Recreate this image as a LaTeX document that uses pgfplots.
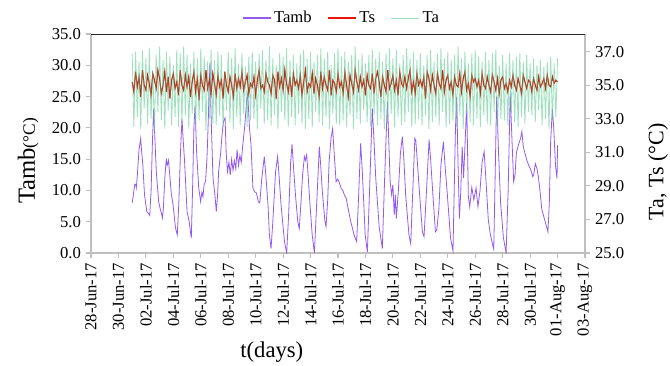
\documentclass[border=0pt]{standalone}
\usepackage{pgfplots}
\usepackage{pgfplotstable}
\pgfplotsset{compat=1.18}
\usepackage{fontspec}
\setmainfont{Liberation Serif}
\setsansfont{Liberation Serif}
\definecolor{tambc}{RGB}{145,90,240}
\definecolor{tsc}{RGB}{235,20,10}
\definecolor{tsb}{RGB}{150,60,30}
\definecolor{tac}{RGB}{110,208,155}
\definecolor{axgray}{RGB}{191,191,191}

\pgfplotstableread{
d T
3.00 8.0
3.10 9.5
3.18 10.9
3.25 11.0
3.30 10.4
3.38 12.5
3.50 16.5
3.62 18.3
3.70 16.0
3.78 14.0
3.90 9.3
4.07 6.6
4.20 6.3
4.28 6.0
4.38 10.0
4.48 18.0
4.57 23.1
4.66 18.0
4.76 13.0
4.93 8.2
5.05 7.0
5.13 6.4
5.20 5.6
5.27 7.0
5.38 12.0
5.49 15.1
5.55 14.0
5.65 14.8
5.72 13.0
5.85 9.5
5.98 7.7
6.16 4.0
6.29 2.9
6.40 8.0
6.52 16.0
6.63 21.5
6.72 18.0
6.82 14.6
7.00 6.6
7.16 5.0
7.24 3.5
7.31 2.4
7.40 10.0
7.50 20.0
7.58 23.5
7.70 16.0
7.85 10.4
7.99 8.2
8.08 9.7
8.16 9.0
8.24 10.9
8.35 11.5
8.45 15.0
8.53 20.0
8.62 27.0
8.67 30.4
8.75 22.0
8.89 12.0
9.03 9.3
9.13 6.6
9.22 9.0
9.30 13.0
9.45 16.0
9.55 18.9
9.65 21.0
9.77 21.6
9.85 16.0
9.95 13.0
10.05 14.5
10.15 12.5
10.25 15.0
10.35 13.2
10.45 14.8
10.55 13.5
10.65 16.5
10.75 14.0
10.85 15.6
10.95 14.5
11.05 17.0
11.20 20.2
11.35 24.5
11.42 25.5
11.55 20.0
11.66 17.3
11.80 10.4
11.92 9.8
12.05 9.6
12.20 8.2
12.30 8.0
12.45 12.0
12.63 15.4
12.72 13.0
12.90 7.7
13.00 2.9
13.12 0.7
13.25 5.0
13.45 13.0
13.60 15.4
13.70 12.5
13.85 7.7
14.10 1.8
14.26 0.0
14.40 6.0
14.55 14.5
14.65 17.4
14.75 14.0
14.90 9.3
15.07 5.0
15.18 3.9
15.30 8.0
15.42 12.5
15.55 15.4
15.62 14.8
15.72 15.7
15.82 12.5
15.96 7.7
16.12 2.9
16.28 0.0
16.45 8.0
16.64 17.0
16.74 14.0
16.86 9.8
17.05 5.0
17.13 4.2
17.25 8.5
17.35 14.5
17.50 18.5
17.61 19.9
17.72 16.0
17.86 11.4
17.98 11.8
18.10 11.2
18.22 10.4
18.35 10.0
18.46 9.3
18.60 8.7
18.75 7.0
18.93 5.0
19.05 4.0
19.17 2.9
19.36 1.8
19.50 9.0
19.65 17.5
19.75 14.0
19.85 9.3
19.98 2.9
20.14 0.2
20.30 10.0
20.50 23.1
20.60 19.0
20.75 12.0
21.00 4.2
21.23 0.7
21.40 12.0
21.60 24.2
21.70 18.0
21.80 11.4
21.91 9.3
22.00 10.9
22.10 6.1
22.18 9.3
22.25 5.5
22.40 10.0
22.55 16.0
22.69 18.6
22.80 15.0
22.93 9.3
23.17 2.9
23.30 1.5
23.45 10.0
23.60 18.3
23.67 18.0
23.80 14.0
23.95 9.3
24.15 3.4
24.27 2.6
24.45 10.0
24.64 18.1
24.75 15.0
24.90 9.8
25.10 3.4
25.20 3.7
25.35 7.0
25.50 14.0
25.68 17.8
25.80 14.0
25.97 9.3
26.20 2.4
26.38 0.3
26.56 19.9
26.65 25.0
26.75 14.0
26.85 5.5
26.95 10.0
27.05 17.0
27.15 12.0
27.25 17.0
27.38 24.0
27.50 9.0
27.60 7.4
27.75 10.5
27.90 8.5
28.06 10.4
28.20 7.4
28.35 10.0
28.50 14.5
28.65 16.2
28.80 11.0
28.95 5.4
29.10 3.0
29.30 1.0
29.35 0.6
29.45 12.0
29.56 25.0
29.70 16.0
29.85 8.0
30.05 2.5
30.25 0.0
30.40 10.0
30.55 25.5
30.68 18.0
30.80 11.4
30.90 12.5
31.00 16.0
31.15 17.3
31.30 18.3
31.40 19.4
31.50 17.0
31.65 15.7
31.75 14.9
31.90 14.0
32.05 13.3
32.20 12.2
32.26 12.5
32.38 14.3
32.50 13.5
32.60 12.2
32.70 10.4
32.85 7.0
33.10 5.0
33.30 3.4
33.40 8.0
33.50 18.0
33.62 23.0
33.72 20.0
33.85 14.0
33.96 11.9
34.00 17.2
}\tambtable

\pgfplotstableread{
ts ta
35.2 36.9
34.6 32.5
35.8 37.0
34.9 33.1
35.5 36.4
34.3 32.4
35.9 37.1
35.0 33.6
34.7 36.6
35.6 32.7
35.1 37.2
34.4 33.0
35.7 35.9
35.3 32.3
34.8 36.8
35.9 33.4
35.4 37.3
34.5 32.9
35.0 36.5
35.8 32.4
34.6 37.0
35.5 33.5
34.2 36.7
35.3 32.6
35.7 36.2
34.8 33.1
35.2 37.1
34.4 32.5
35.9 36.9
35.0 32.8
34.7 37.3
35.6 33.2
34.9 36.8
35.5 32.4
34.3 36.3
35.2 33.3
35.8 37.0
34.6 32.6
35.4 36.6
34.1 32.9
35.6 37.2
35.0 33.4
34.7 36.7
35.9 32.3
34.8 36.4
35.3 33.0
34.5 37.1
35.7 32.7
35.1 36.5
34.4 32.6
35.6 37.0
34.9 33.2
35.3 36.8
34.2 32.5
35.8 35.8
35.0 33.5
34.6 37.0
35.5 32.8
35.0 36.6
34.3 32.4
35.7 37.2
34.8 33.1
35.4 36.3
34.9 32.6
35.8 36.9
34.7 33.3
35.2 36.1
35.6 32.5
34.5 36.7
35.1 32.9
34.9 37.0
35.5 33.0
34.4 36.4
35.3 32.4
35.9 36.9
34.8 33.6
35.0 37.1
34.6 32.7
35.7 36.5
35.2 32.9
35.0 37.3
34.5 32.6
35.6 36.6
35.3 33.2
34.2 36.2
35.8 32.4
34.9 36.9
35.4 33.4
34.7 36.7
35.9 32.9
35.1 37.2
34.6 32.5
35.5 36.5
34.3 33.1
35.7 36.8
35.0 32.6
35.3 36.3
34.8 33.3
35.6 36.9
34.4 32.7
35.2 37.1
35.9 32.4
34.6 36.6
35.1 33.0
34.9 37.0
35.7 32.5
34.5 36.4
35.4 33.4
35.0 36.8
34.3 32.8
35.8 37.2
34.8 32.6
35.5 36.6
35.0 33.1
34.7 37.0
35.9 32.4
34.4 36.2
35.3 33.3
35.1 36.9
34.6 32.7
35.7 37.2
34.9 32.6
35.2 36.7
34.5 32.9
35.8 37.0
35.0 32.5
34.3 36.4
35.6 33.2
35.1 36.8
34.6 32.4
35.9 37.3
35.2 33.0
34.7 36.5
35.5 32.7
34.9 36.9
35.3 33.5
34.4 36.3
35.6 32.8
35.0 36.8
34.8 32.5
35.7 37.1
34.5 33.2
35.4 36.6
35.8 32.6
35.2 37.0
34.3 33.0
35.5 36.4
35.0 32.4
34.6 36.9
35.9 32.9
34.8 37.2
35.1 33.3
35.6 36.6
34.7 32.5
35.3 37.1
34.4 33.1
35.8 36.3
35.1 32.6
34.9 36.8
35.5 32.8
34.8 37.2
35.4 33.4
35.9 36.6
34.6 32.5
35.2 37.0
34.5 32.7
35.7 36.5
35.0 33.0
35.3 36.9
34.9 32.6
35.5 36.2
34.2 33.2
35.8 36.8
35.4 32.4
34.7 37.1
35.6 32.8
35.0 36.4
34.5 33.1
35.7 36.9
35.1 32.6
34.8 37.2
35.9 33.4
34.6 36.6
35.3 32.5
35.6 37.0
34.8 32.7
35.2 36.5
34.4 32.9
35.5 36.8
35.0 32.5
34.9 37.3
35.7 33.2
34.6 36.6
35.4 32.4
35.8 37.0
34.7 33.3
35.1 36.3
34.3 32.8
35.6 36.9
35.2 32.6
35.4 37.1
34.9 33.0
35.3 36.7
34.5 32.5
35.7 36.4
35.0 33.2
34.8 37.0
35.5 32.7
35.0 36.5
34.6 32.6
35.6 36.9
35.2 33.4
34.7 37.1
35.4 32.5
34.5 36.2
35.3 33.0
35.5 36.8
34.8 32.9
35.1 36.3
34.6 32.6
35.3 36.9
34.9 33.3
35.6 36.5
35.0 32.8
34.7 36.7
35.4 32.5
35.0 36.9
34.5 33.1
35.6 36.4
35.2 32.7
34.8 36.8
35.3 33.4
35.2 36.3
34.6 33.2
35.4 36.6
35.0 32.8
34.7 36.2
35.5 33.5
34.9 36.5
35.1 32.6
35.4 36.1
34.8 33.0
35.6 36.4
35.0 32.4
34.9 36.7
35.5 32.9
35.1 36.3
35.3 33.1
35.2 36.6
}\tstatable

\pgfplotsset{
  common/.style={
    width=370.5pt, height=164.25pt, scale only axis,
    xmin=0, xmax=36,
    tick align=outside,
    major tick length=4pt,
    /pgf/number format/assume math mode=true,
    axis line style={draw=axgray, line width=0.9pt},
    tick style={draw=axgray, line width=0.8pt},
    ticklabel style={font=\rmfamily\fontsize{12.5}{14}\selectfont, text=black},
  }
}

\begin{document}
\begin{tikzpicture}
\path[use as bounding box] (-68.25pt,-84pt) rectangle (434.25pt,189.75pt);

\begin{axis}[
  common,
  axis x line*=bottom,
  axis y line*=left,
  ymin=0, ymax=35,
  ytick={0,5,10,15,20,25,30,35},
  yticklabel style={/pgf/number format/.cd, fixed, fixed zerofill, precision=1},
  xtick={0,2,...,36},
  xticklabels={28-Jun-17,30-Jun-17,02-Jul-17,04-Jul-17,06-Jul-17,08-Jul-17,10-Jul-17,12-Jul-17,14-Jul-17,16-Jul-17,18-Jul-17,20-Jul-17,22-Jul-17,24-Jul-17,26-Jul-17,28-Jul-17,30-Jul-17,01-Aug-17,03-Aug-17},
  xticklabel style={rotate=90, anchor=east, font=\rmfamily\fontsize{12.5}{14}\selectfont},
  xlabel={\rmfamily\fontsize{17}{19}\selectfont t(days)},
  xlabel style={at={(axis description cs:0.366,-0.452)}, anchor=center},
  ylabel={{\rmfamily\fontsize{18.5}{20}\selectfont Tamb}{\rmfamily\fontsize{13}{15}\selectfont(°C)}},
  ylabel style={at={(axis description cs:-0.127,0.42)}, anchor=center},
]
\addplot[color=tambc, line width=0.6pt, mark=none] table[x=d, y=T] {\tambtable};
\end{axis}

\begin{axis}[
  common,
  axis x line=none,
  axis y line*=right,
  ymin=25, ymax=38.05,
  ytick={25,27,29,31,33,35,37},
  yticklabel style={/pgf/number format/.cd, fixed, fixed zerofill, precision=1},
  ylabel={\rmfamily\fontsize{16.5}{18}\selectfont Ta, Ts (°C)},
  ylabel style={at={(axis description cs:1.148,0.37)}, anchor=center, rotate=0},
  legend columns=3,
  legend style={draw=none, fill=none, at={(axis description cs:0.508,1.073)}, anchor=center,
    font=\rmfamily\fontsize{12.5}{14}\selectfont, /tikz/every even column/.append style={column sep=10pt}},
  legend image code/.code={\draw[#1] (0pt,0pt) -- (21pt,0pt);},
]
\addlegendimage{color=tambc, line width=0.8pt}
\addlegendentry{Tamb}
\addplot[color=tsc, line width=0.8pt, mark=none] table[x expr=3+\coordindex*0.125, y=ts] {\tstatable};
\addlegendentry{Ts}
\addplot[color=tac, line width=0.65pt, mark=none, opacity=0.65] table[x expr=3+\coordindex*0.125, y=ta] {\tstatable};
\addlegendentry{Ta}
\addplot[color=tsb, line width=0.6pt, mark=none, opacity=0.55, forget plot] table[x expr=3+\coordindex*0.125, y=ts] {\tstatable};
\draw[black!85, line width=1.4pt] (rel axis cs:0,1) -- (rel axis cs:1,1);
\end{axis}
\end{tikzpicture}
\end{document}
